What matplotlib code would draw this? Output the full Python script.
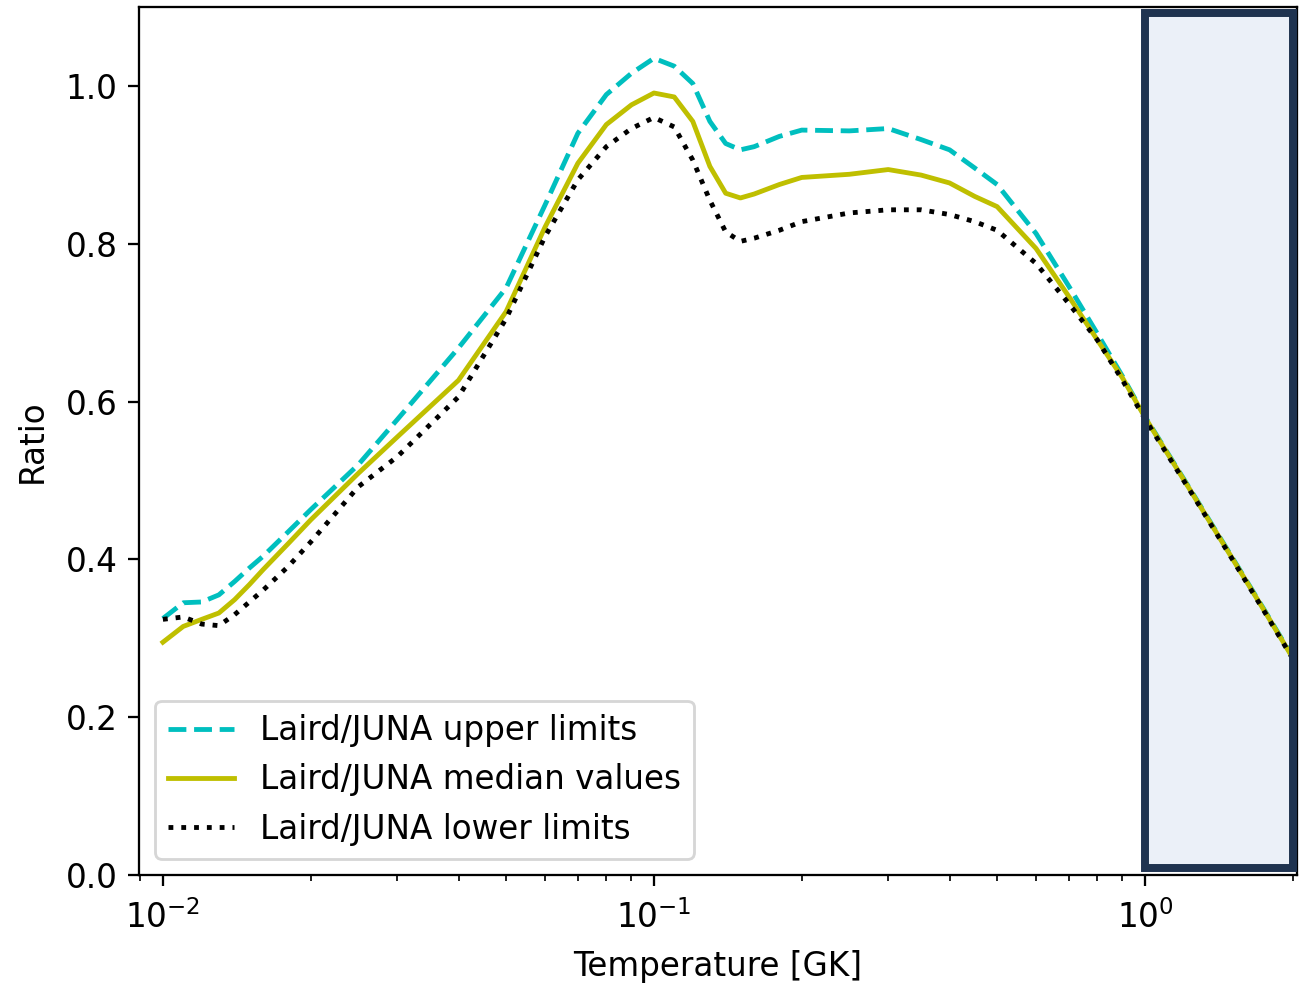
import matplotlib
matplotlib.use("Agg")
import matplotlib.pyplot as plt

# temperature grid [GK]
temps = [0.01, 0.011, 0.012, 0.013, 0.014, 0.015, 0.016, 0.018, 0.02, 0.025,
         0.03, 0.04, 0.05, 0.06, 0.07, 0.08, 0.09, 0.1, 0.11, 0.12,
         0.13, 0.14, 0.15, 0.16, 0.18, 0.2, 0.25, 0.3, 0.35, 0.4,
         0.45, 0.5, 0.6, 0.7, 0.8, 0.9, 1.0, 1.25, 1.5, 1.75, 2.0]

# ratios
upper = [0.325, 0.345, 0.346, 0.355, 0.372, 0.389, 0.404, 0.435, 0.463, 0.520,
         0.577, 0.668, 0.744, 0.849, 0.940, 0.989, 1.016, 1.035, 1.025, 1.003,
         0.955, 0.927, 0.919, 0.923, 0.936, 0.944, 0.943, 0.946, 0.932, 0.919,
         0.896, 0.875, 0.813, 0.746, 0.686, 0.632, 0.581, 0.484, 0.404, 0.336, 0.276]
median = [0.295, 0.315, 0.324, 0.332, 0.349, 0.368, 0.387, 0.420, 0.450, 0.509,
          0.555, 0.627, 0.714, 0.821, 0.902, 0.951, 0.976, 0.991, 0.986, 0.955,
          0.898, 0.864, 0.858, 0.863, 0.875, 0.884, 0.888, 0.894, 0.887, 0.877,
          0.860, 0.847, 0.794, 0.733, 0.678, 0.630, 0.580, 0.483, 0.403, 0.335, 0.275]
lower = [0.324, 0.327, 0.318, 0.316, 0.330, 0.346, 0.361, 0.391, 0.422, 0.492,
         0.530, 0.606, 0.705, 0.809, 0.881, 0.923, 0.946, 0.960, 0.948, 0.906,
         0.855, 0.815, 0.803, 0.807, 0.817, 0.828, 0.839, 0.843, 0.843, 0.837,
         0.828, 0.817, 0.775, 0.724, 0.678, 0.627, 0.578, 0.482, 0.402, 0.334, 0.274]

# highlighted temperature range
hl_lo, hl_hi = 1.0, 2.0

plt.rcParams['font.size'] = 11.5
plt.rcParams['lines.linewidth'] = 1.7
plt.rcParams['xtick.major.size'] = 4
plt.rcParams['ytick.major.size'] = 4

dpi = 204.5
fig = plt.figure(figsize=(1309 / dpi, 983 / dpi), dpi=dpi)
ax = fig.add_axes([139 / 1309, 108 / 983, 1158 / 1309, 868 / 983])

ax.plot(temps, upper, 'c--', label='Laird/JUNA upper limits')
ax.plot(temps, median, 'y-', label='Laird/JUNA median values')
ax.plot(temps, lower, 'k:', label='Laird/JUNA lower limits')

ax.set_xscale('log')
ax.set_xlim(0.00894, 2.04)
ax.set_ylim(0, 1.1)
ax.tick_params(axis='x', pad=5)
ax.set_xlabel('Temperature [GK]', labelpad=5)
ax.set_ylabel('Ratio', labelpad=6)
ax.legend(loc='lower left')

# highlight box: light fill below the curves, dark frame on top
ax.axvspan(hl_lo, hl_hi, ymin=0.008, ymax=0.993, facecolor='#ebf0f8',
           edgecolor='none', zorder=0)
ax.axvspan(hl_lo, hl_hi, ymin=0.008, ymax=0.993, facecolor='none',
           edgecolor='#1f3350', linewidth=2.8, zorder=5)

fig.savefig('out.png', dpi=dpi)
